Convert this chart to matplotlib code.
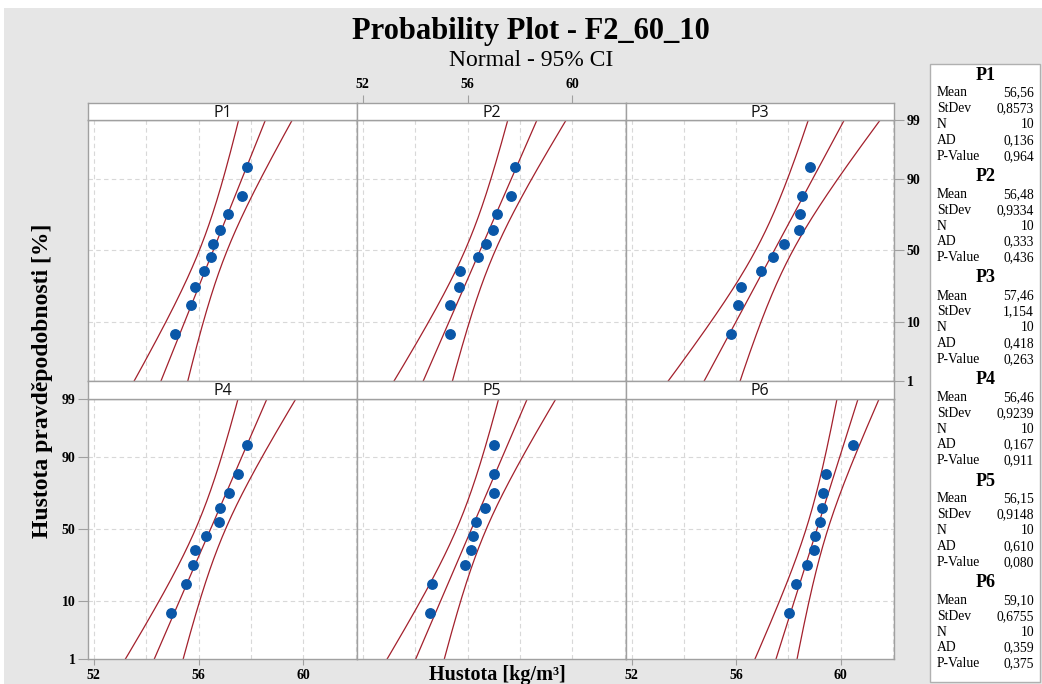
import matplotlib
matplotlib.use("Agg")
import matplotlib.pyplot as plt
import numpy as np
from statistics import NormalDist
from matplotlib.patches import Rectangle

# ---------------- data ----------------
panels = ["P1", "P2", "P3", "P4", "P5", "P6"]
P1 = [55.11, 55.73, 55.86, 56.19, 56.47, 56.54, 56.82, 57.13, 57.67, 57.85]
P2 = [55.34, 55.34, 55.67, 55.71, 56.39, 56.71, 56.98, 57.12, 57.67, 57.81]
P3 = [55.79, 56.09, 56.18, 56.97, 57.40, 57.85, 58.42, 58.45, 58.54, 58.84]
P4 = [54.94, 55.54, 55.80, 55.86, 56.29, 56.80, 56.82, 57.16, 57.50, 57.85]
P5 = [54.56, 54.65, 55.89, 56.13, 56.22, 56.32, 56.65, 57.02, 57.02, 57.02]
P6 = [58.04, 58.28, 58.70, 59.00, 59.04, 59.22, 59.31, 59.34, 59.43, 60.48]
samples = [P1, P2, P3, P4, P5, P6]

means = [56.56, 56.48, 57.46, 56.46, 56.15, 59.10]
stdevs = [0.8573, 0.9334, 1.154, 0.9239, 0.9148, 0.6755]
ns = [10, 10, 10, 10, 10, 10]
mean_txt = ["56,56", "56,48", "57,46", "56,46", "56,15", "59,10"]
stdev_txt = ["0,8573", "0,9334", "1,154", "0,9239", "0,9148", "0,6755"]
ad_txt = ["0,136", "0,333", "0,418", "0,167", "0,610", "0,359"]
pv_txt = ["0,964", "0,436", "0,263", "0,911", "0,080", "0,375"]

x_ticks = [52, 56, 60]
x_grid = [52, 54, 56, 58, 60, 62]
p_ticks = [1, 10, 50, 90, 99]

title = "Probability Plot - F2_60_10"
subtitle = "Normal - 95% CI"
xlabel = "Hustota [kg/m³]"
ylabel = "Hustota pravděpodobnosti [%]"

# ---------------- style ----------------
W, H = 1042, 684
SERIF = "Liberation Serif"
BG = "#e6e6e6"
FRAME = "#a0a0a0"
LINE = "#a3202c"
DOT = "#0a57a8"
GRID = "#d8d8d8"

nd = NormalDist()
z = lambda p: nd.inv_cdf(p)

fig = plt.figure(figsize=(W / 100, H / 100), dpi=100)
fig.patch.set_facecolor("white")
fig.patches.append(Rectangle((4 / W, 0), 1 - 4 / W, 1 - 8 / H, transform=fig.transFigure,
                             facecolor=BG, edgecolor="none", zorder=-10))


def box(x0, y0, x1, y1):
    return [x0 / W, 1 - y1 / H, (x1 - x0) / W, (y1 - y0) / H]


xs = [(88, 357), (357, 626), (626, 894)]
rows = [((103, 120), (120, 381)), ((381, 399), (399, 659))]
XL = (51.78, 62.05)
YL = (z(0.01), z(0.99))
tickfont = dict(family=SERIF, weight="bold", size=10)

for k in range(6):
    r, c = divmod(k, 3)
    (s0, s1), (p0, p1) = rows[r]
    x0, x1 = xs[c]
    ax = fig.add_axes(box(x0, p0, x1, p1))
    ax.set_facecolor("white")
    ax.set_xlim(*XL)
    ax.set_ylim(*YL)
    for g in x_grid:
        ax.axvline(g, color=GRID, lw=0.8, ls=(0, (4, 3)), zorder=0)
    for p in [10, 50, 90]:
        ax.axhline(z(p / 100), color=GRID, lw=0.8, ls=(0, (4, 3)), zorder=0)

    n = len(samples[k])
    pos = [(i - 0.3) / (n + 0.4) for i in range(1, n + 1)]
    zs = [z(p) for p in pos]

    zz = np.linspace(-3.2, 3.2, 200)
    mu, sd = means[k], stdevs[k]
    fit = mu + sd * zz
    half = 1.96 * sd / np.sqrt(ns[k]) * np.sqrt(1 + zz ** 2 / 2)
    ax.plot(fit, zz, color=LINE, lw=0.9, zorder=2)
    ax.plot(fit - half, zz, color=LINE, lw=0.9, zorder=2)
    ax.plot(fit + half, zz, color=LINE, lw=0.9, zorder=2)
    ax.plot(sorted(samples[k]), zs, "o", color=DOT, ms=6.8, mec=DOT, zorder=3)

    for sp in ax.spines.values():
        sp.set_color(FRAME)
        sp.set_linewidth(1.0)

    ax.set_yticks([z(p / 100) for p in p_ticks])
    ax.set_xticks(x_ticks)
    ax.tick_params(length=0, labelleft=False, labelbottom=False)
    if k == 3:
        ax.tick_params(axis="y", left=True, labelleft=True, length=7, color=FRAME, pad=2)
        ax.set_yticklabels([str(p) for p in p_ticks], **tickfont)
    if k == 2:
        ax.tick_params(axis="y", right=True, labelright=True, left=False, length=7, color=FRAME, pad=2)
        ax.set_yticklabels([str(p) for p in p_ticks], **tickfont)
    if k in (3, 5):
        ax.tick_params(axis="x", bottom=True, labelbottom=True, length=4, color=FRAME, pad=3)
        ax.set_xticklabels([str(t) for t in x_ticks], **tickfont)

    # strip
    st = fig.add_axes(box(x0, s0, x1, s1))
    st.set_facecolor("white")
    st.set_xlim(*XL)
    st.set_ylim(0, 1)
    st.set_yticks([])
    for sp in st.spines.values():
        sp.set_color(FRAME)
        sp.set_linewidth(1.0)
    st.text(0.5 * (XL[0] + XL[1]), 0.42, panels[k], ha="center", va="center",
            family="Open Sans", fontsize=11.5, color="#111111")
    if k == 1:
        st.xaxis.tick_top()
        st.set_xticks(x_ticks)
        st.set_xticklabels([str(t) for t in x_ticks], **tickfont)
        st.tick_params(axis="x", length=6, color=FRAME, pad=3)
    else:
        st.set_xticks([])

# titles and labels
fig.text(531 / W, 1 - 32 / H, title, ha="center", va="center", family=SERIF,
         weight="bold", fontsize=22)
fig.text(531 / W, 1 - 61 / H, subtitle, ha="center", va="center", family=SERIF, fontsize=17)
fig.text(43 / W, 1 - 381 / H, ylabel, ha="center", va="center", rotation=90, family=SERIF,
         weight="bold", fontsize=17)
fig.text(497 / W, 1 - 675 / H, xlabel, ha="center", va="center", family=SERIF,
         weight="bold", fontsize=14.5)

# statistics box
fig.patches.append(Rectangle((930 / W, 1 - 682 / H), 110 / W, 618 / H, transform=fig.transFigure,
                             facecolor="white", edgecolor="#b0b0b0", lw=1.0, zorder=1))
labels = ["Mean", "StDev", "N", "AD", "P-Value"]
for k in range(6):
    hy = 75 + k * 101.5
    fig.text(986 / W, 1 - hy / H, panels[k], ha="center", va="center", family=SERIF,
             weight="bold", fontsize=13, zorder=2)
    vals = [mean_txt[k], stdev_txt[k], str(ns[k]), ad_txt[k], pv_txt[k]]
    for j, (lab, v) in enumerate(zip(labels, vals)):
        yy = hy + 18 + j * 15.8
        fig.text(937 / W, 1 - yy / H, lab, ha="left", va="center", family=SERIF,
                 fontsize=9.8, zorder=2)
        fig.text(1034 / W, 1 - yy / H, v, ha="right", va="center", family=SERIF,
                 fontsize=9.8, zorder=2)

fig.savefig("out.png", dpi=100)
